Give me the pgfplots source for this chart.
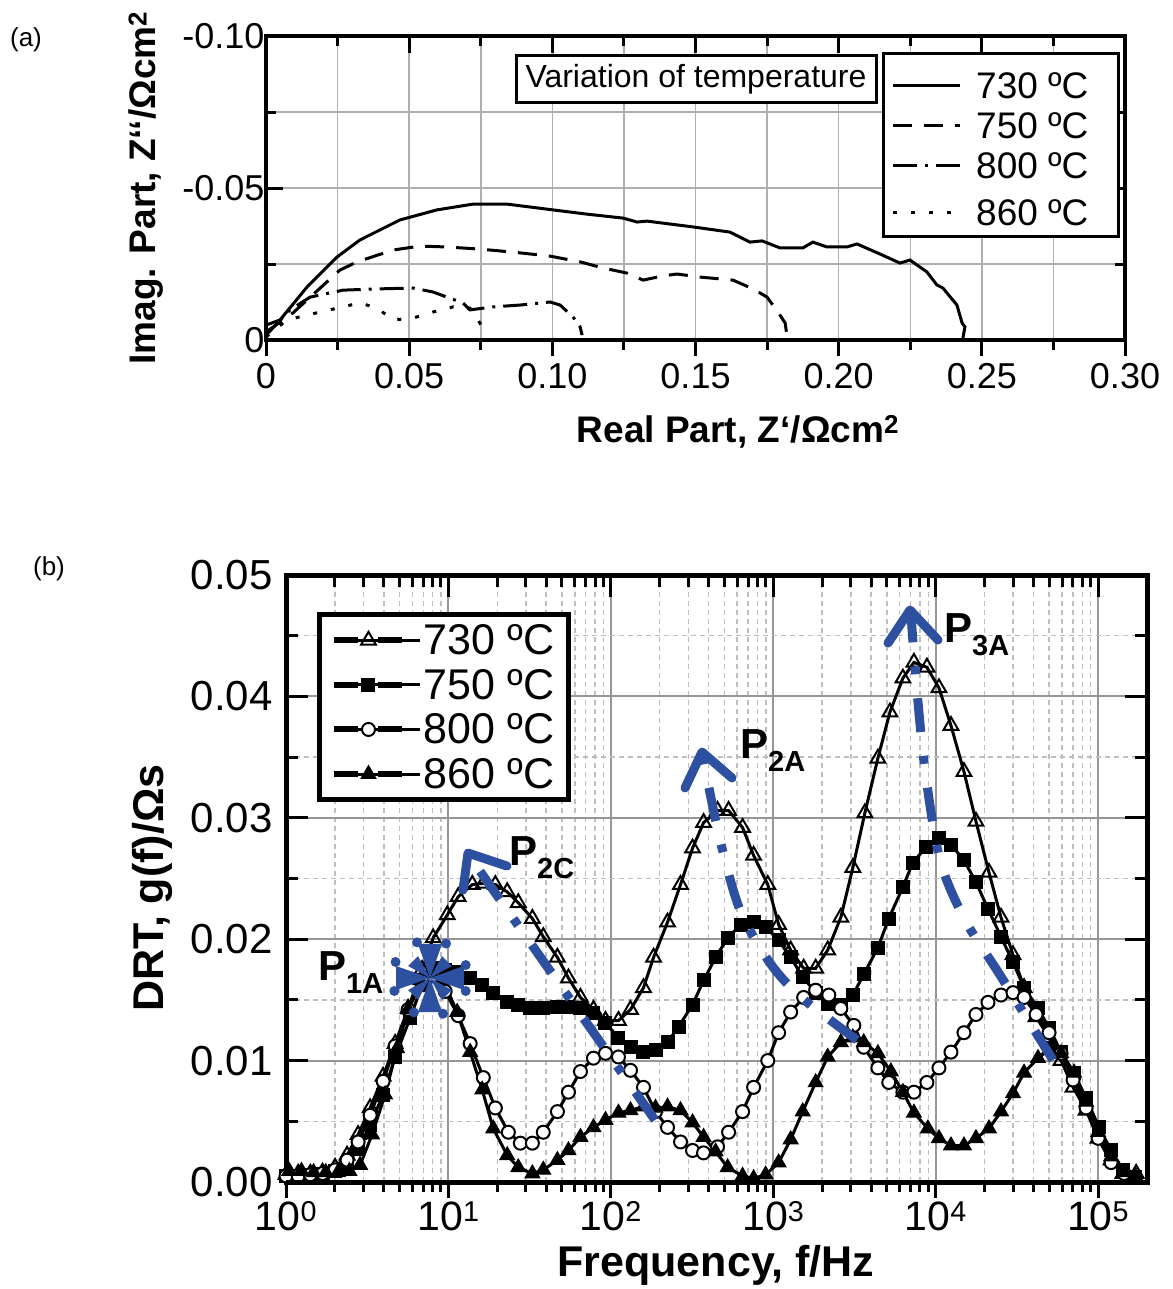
\documentclass[border=0pt]{standalone}
\usepackage{fontspec}
\setmainfont{Liberation Sans}
\usepackage{pgfplots}
\pgfplotsset{compat=1.18}
\usepackage{pgfplotstable}
\definecolor{arrblue}{RGB}{46,80,160}
\definecolor{gridA}{RGB}{175,175,175}
\definecolor{gridMaj}{RGB}{150,150,150}
\definecolor{gridMin}{RGB}{190,190,190}
\newcommand\fs[1]{\fontsize{#1}{#1}\selectfont}
\newcommand\psub[2]{#1\raisebox{-13pt}{\fs{29}#2}}

% ---------- (a) Nyquist data: Z' , Z'' (ohm cm2) ----------
\pgfplotstableread{
x y
0.0000 -0.0049
0.0049 -0.0066
0.0143 -0.0174
0.0248 -0.0273
0.0328 -0.0329
0.0468 -0.0395
0.0597 -0.0428
0.0723 -0.0447
0.0842 -0.0447
0.1002 -0.0428
0.1121 -0.0414
0.1247 -0.0401
0.1296 -0.0388
0.1331 -0.0391
0.1491 -0.0372
0.1620 -0.0355
0.1690 -0.0322
0.1732 -0.0326
0.1795 -0.0303
0.1875 -0.0303
0.1910 -0.0322
0.1959 -0.0306
0.2029 -0.0306
0.2064 -0.0316
0.2144 -0.0283
0.2214 -0.0253
0.2249 -0.0263
0.2308 -0.0224
0.2343 -0.0181
0.2364 -0.0171
0.2413 -0.0115
0.2431 -0.0056
0.2441 -0.0043
0.2434 -0.0007
}\nA
\pgfplotstableread{
x y
0.0000 -0.0026
0.0094 -0.0089
0.0258 -0.0230
0.0318 -0.0257
0.0444 -0.0296
0.0538 -0.0309
0.0632 -0.0306
0.0747 -0.0299
0.0863 -0.0289
0.0992 -0.0276
0.1097 -0.0257
0.1177 -0.0237
0.1261 -0.0220
0.1317 -0.0197
0.1386 -0.0211
0.1435 -0.0217
0.1516 -0.0207
0.1631 -0.0197
0.1701 -0.0168
0.1750 -0.0141
0.1788 -0.0092
0.1813 -0.0056
0.1820 -0.0010
}\nB
\pgfplotstableread{
x y
0.0000 -0.0016
0.0084 -0.0099
0.0154 -0.0141
0.0269 -0.0164
0.0388 -0.0168
0.0513 -0.0171
0.0583 -0.0158
0.0632 -0.0141
0.0688 -0.0122
0.0712 -0.0099
0.0793 -0.0109
0.0887 -0.0115
0.0992 -0.0125
0.1027 -0.0115
0.1072 -0.0076
0.1097 -0.0043
0.1104 -0.0016
}\nC
\pgfplotstableread{
x y
0.0000 -0.0010
0.0073 -0.0066
0.0189 -0.0092
0.0328 -0.0122
0.0388 -0.0105
0.0444 -0.0066
0.0513 -0.0072
0.0583 -0.0092
0.0653 -0.0109
0.0712 -0.0105
0.0747 -0.0056
0.0772 -0.0010
}\nD

% ---------- (b) DRT data: log10(f/Hz) , g(f) ----------
\pgfplotstableread{
lf y
0.000 0.0006
0.075 0.0007
0.150 0.0007
0.225 0.0008
0.302 0.0012
0.376 0.0022
0.444 0.0039
0.518 0.0061
0.598 0.0087
0.672 0.0114
0.752 0.0143
0.838 0.0175
0.906 0.0201
0.993 0.0220
1.060 0.0235
1.147 0.0245
1.215 0.0246
1.289 0.0245
1.362 0.0239
1.430 0.0230
1.517 0.0217
1.584 0.0202
1.671 0.0185
1.739 0.0168
1.813 0.0152
1.893 0.0142
1.967 0.0133
2.047 0.0133
2.121 0.0142
2.201 0.0160
2.263 0.0185
2.349 0.0214
2.429 0.0245
2.503 0.0275
2.571 0.0296
2.657 0.0306
2.725 0.0306
2.811 0.0292
2.879 0.0269
2.966 0.0245
3.033 0.0212
3.107 0.0191
3.187 0.0176
3.261 0.0176
3.335 0.0191
3.416 0.0218
3.490 0.0259
3.564 0.0304
3.644 0.0349
3.718 0.0387
3.798 0.0415
3.866 0.0428
3.946 0.0424
4.020 0.0407
4.094 0.0376
4.174 0.0338
4.248 0.0297
4.328 0.0255
4.402 0.0218
4.476 0.0187
4.544 0.0160
4.618 0.0136
4.698 0.0119
4.772 0.0100
4.846 0.0078
4.926 0.0059
5.000 0.0036
5.080 0.0018
5.154 0.0007
5.234 0.0007
}\dA
\pgfplotstableread{
lf y
0.000 0.0005
0.075 0.0005
0.150 0.0006
0.225 0.0007
0.302 0.0009
0.376 0.0015
0.444 0.0027
0.518 0.0047
0.598 0.0072
0.672 0.0103
0.764 0.0135
0.838 0.0162
0.906 0.0176
0.980 0.0175
1.054 0.0173
1.134 0.0168
1.208 0.0162
1.276 0.0156
1.362 0.0148
1.430 0.0146
1.504 0.0143
1.584 0.0143
1.671 0.0144
1.739 0.0144
1.813 0.0143
1.893 0.0139
1.967 0.0131
2.047 0.0119
2.121 0.0111
2.201 0.0107
2.275 0.0109
2.349 0.0115
2.417 0.0128
2.503 0.0146
2.571 0.0166
2.645 0.0185
2.719 0.0201
2.799 0.0212
2.879 0.0214
2.953 0.0210
3.033 0.0199
3.107 0.0185
3.181 0.0169
3.261 0.0156
3.335 0.0147
3.416 0.0146
3.490 0.0154
3.557 0.0171
3.644 0.0193
3.711 0.0217
3.798 0.0243
3.859 0.0263
3.940 0.0276
4.020 0.0283
4.094 0.0278
4.174 0.0265
4.248 0.0247
4.322 0.0225
4.402 0.0202
4.476 0.0181
4.544 0.0160
4.630 0.0143
4.698 0.0127
4.772 0.0107
4.852 0.0090
4.926 0.0069
5.006 0.0045
5.080 0.0026
5.154 0.0010
5.230 0.0004
}\dB
\pgfplotstableread{
lf y
0.000 0.0005
0.075 0.0005
0.150 0.0006
0.225 0.0007
0.302 0.0010
0.376 0.0018
0.444 0.0033
0.518 0.0055
0.598 0.0083
0.672 0.0112
0.752 0.0142
0.838 0.0165
0.906 0.0170
0.980 0.0157
1.060 0.0137
1.134 0.0114
1.215 0.0086
1.289 0.0061
1.369 0.0041
1.443 0.0032
1.517 0.0032
1.584 0.0041
1.671 0.0058
1.739 0.0074
1.813 0.0091
1.893 0.0102
1.967 0.0106
2.047 0.0103
2.121 0.0092
2.201 0.0078
2.275 0.0058
2.349 0.0045
2.429 0.0033
2.503 0.0026
2.571 0.0024
2.657 0.0029
2.725 0.0041
2.811 0.0058
2.879 0.0078
2.966 0.0100
3.033 0.0123
3.107 0.0140
3.187 0.0152
3.261 0.0158
3.342 0.0154
3.416 0.0143
3.496 0.0129
3.557 0.0111
3.644 0.0094
3.711 0.0082
3.798 0.0074
3.866 0.0074
3.946 0.0082
4.020 0.0094
4.094 0.0107
4.174 0.0123
4.248 0.0138
4.322 0.0148
4.402 0.0154
4.476 0.0156
4.544 0.0152
4.618 0.0138
4.698 0.0123
4.772 0.0106
4.846 0.0084
4.926 0.0061
5.000 0.0036
5.080 0.0016
5.160 0.0007
}\dC
\pgfplotstableread{
lf y
0.020 0.0009
0.095 0.0009
0.170 0.0008
0.245 0.0008
0.320 0.0008
0.390 0.0009
0.456 0.0014
0.530 0.0039
0.610 0.0072
0.684 0.0110
0.752 0.0142
0.826 0.0166
0.900 0.0172
0.968 0.0166
1.054 0.0140
1.134 0.0107
1.208 0.0076
1.276 0.0044
1.362 0.0022
1.430 0.0012
1.517 0.0007
1.584 0.0010
1.671 0.0018
1.739 0.0026
1.813 0.0037
1.893 0.0045
1.967 0.0051
2.047 0.0057
2.121 0.0059
2.201 0.0062
2.275 0.0061
2.349 0.0062
2.429 0.0059
2.503 0.0049
2.571 0.0037
2.645 0.0025
2.719 0.0012
2.811 0.0005
2.879 0.0003
2.953 0.0006
3.033 0.0016
3.107 0.0035
3.181 0.0058
3.261 0.0082
3.335 0.0103
3.416 0.0115
3.490 0.0119
3.557 0.0115
3.644 0.0106
3.724 0.0091
3.798 0.0074
3.866 0.0057
3.952 0.0044
4.020 0.0036
4.094 0.0030
4.174 0.0030
4.248 0.0036
4.328 0.0044
4.402 0.0058
4.476 0.0073
4.544 0.0090
4.630 0.0102
4.698 0.0109
4.772 0.0106
4.852 0.0090
4.926 0.0066
5.000 0.0041
5.080 0.0021
5.160 0.0008
5.230 0.0005
}\dD

\begin{document}
\begin{tikzpicture}
\useasboundingbox (0pt,0pt) rectangle (1172pt,-1289pt);

% ================= (a) =================
\begin{axis}[
  at={(695.5pt,-188pt)}, anchor=center, scale only axis,
  width=859pt, height=304pt,
  xmin=0, xmax=0.3, ymin=-0.1, ymax=0, y dir=reverse,
  scaled ticks=false,
  xtick={0,0.05,0.1,0.15,0.2,0.25,0.3},
  xticklabels={0,0.05,0.10,0.15,0.20,0.25,0.30},
  minor xtick={0.025,0.075,0.125,0.175,0.225,0.275},
  ytick={-0.1,-0.05,0}, yticklabels={-0.10,-0.05,0},
  minor ytick={-0.075,-0.025},
  grid=both,
  major grid style={gridA, line width=1.5pt},
  minor grid style={gridA, line width=1.5pt},
  axis line style={line width=4pt},
  every tick/.style={black, line width=3pt},
  major tick length=17pt, minor tick length=10pt,
  tick align=inside,
  xtick pos=right, xticklabel pos=left,
  ticklabel style={font=\fs{36}},
  xticklabel style={yshift=-20pt},
  yticklabel style={xshift=2pt},
  clip=false,
]
\addplot[black, line width=3pt] table[x=x,y=y] {\nA};
\addplot[black, line width=3pt, dash pattern=on 19pt off 12pt] table[x=x,y=y] {\nB};
\addplot[black, line width=3pt, dash pattern=on 24pt off 8pt on 3pt off 8pt] table[x=x,y=y] {\nC};
\addplot[black, line width=3pt, dash pattern=on 4pt off 14pt] table[x=x,y=y] {\nD};
\end{axis}
% outward bottom ticks of (a)
\begin{axis}[
  at={(695.5pt,-188pt)}, anchor=center, scale only axis,
  width=859pt, height=304pt,
  xmin=0, xmax=0.3, ymin=0, ymax=0.1,
  axis x line*=bottom, axis y line=none,
  xtick={0,0.05,0.1,0.15,0.2,0.25,0.3}, xticklabels={},
  minor xtick={0.025,0.075,0.125,0.175,0.225,0.275},
  axis line style={line width=4pt},
  every tick/.style={black, line width=3pt},
  major tick length=16pt, minor tick length=10pt,
  tick align=outside,
]
\end{axis}

% ================= (b) =================
\begin{axis}[
  at={(716.5pt,-878.5pt)}, anchor=center, scale only axis,
  width=861pt, height=607pt,
  xmode=log, log basis x=10,
  xmin=1, xmax=2e5, ymin=0, ymax=0.05,
  scaled y ticks=false,
  xtick={1,10,100,1000,10000,100000},
  xticklabels={10\textsuperscript{0},10\textsuperscript{1},10\textsuperscript{2},10\textsuperscript{3},10\textsuperscript{4},10\textsuperscript{5}},
  minor xtick={2,3,4,5,6,7,8,9,20,30,40,50,60,70,80,90,200,300,400,500,600,700,800,900,2000,3000,4000,5000,6000,7000,8000,9000,20000,30000,40000,50000,60000,70000,80000,90000},
  ytick={0,0.01,0.02,0.03,0.04,0.05},
  yticklabels={0.00,0.01,0.02,0.03,0.04,0.05},
  minor ytick={0.005,0.015,0.025,0.035,0.045},
  grid=both,
  major grid style={gridMaj, line width=2pt},
  minor grid style={gridMin, line width=1.5pt, dash pattern=on 5pt off 4pt},
  axis line style={line width=5pt},
  every tick/.style={black, line width=3pt},
  major tick length=22pt, minor tick length=12pt,
  tick align=inside,
  xtick pos=right, xticklabel pos=left,
  ticklabel style={font=\fs{41}},
  yticklabel style={font=\fs{42}, xshift=-10pt},
  xticklabel style={yshift=-16pt},
  clip=false,
  legend style={at={(0.036,0.939)}, anchor=north west, draw=black, line width=5pt,
     font=\fs{43}, inner xsep=12pt, inner ysep=8pt, row sep=9pt, cells={anchor=west}},
  legend image code/.code={
     \path (0pt,0pt) -- (86pt,0pt);
     \draw[#1, mark=none, line width=6pt, solid] (0pt,0pt) -- (24pt,0pt);
     \draw[#1, mark=none, line width=6pt, solid] (44pt,0pt) -- (68pt,0pt);
     \draw[#1, only marks] plot coordinates {(34pt,0pt)};
  },
]
\addplot[black, line width=3pt, mark=triangle, mark size=8.5pt,
   mark options={solid, fill=white, line width=2pt}] table[x expr=10^\thisrow{lf}, y=y] {\dA};
\addlegendentry{730 ºC}
\addplot[black, line width=3pt, mark=square*, mark size=6.5pt,
   mark options={solid, fill=black, line width=1pt}] table[x expr=10^\thisrow{lf}, y=y] {\dB};
\addlegendentry{750 ºC}
\addplot[black, line width=3pt, mark=*, mark size=6.5pt,
   mark options={solid, fill=white, line width=2pt}] table[x expr=10^\thisrow{lf}, y=y] {\dC};
\addlegendentry{800 ºC}
\addplot[black, line width=3pt, mark=triangle*, mark size=8.5pt,
   mark options={solid, fill=black, line width=1pt}] table[x expr=10^\thisrow{lf}, y=y] {\dD};
\addlegendentry{860 ºC}
\end{axis}
% outward bottom ticks of (b)
\begin{axis}[
  at={(716.5pt,-878.5pt)}, anchor=center, scale only axis,
  width=861pt, height=607pt,
  xmode=log, xmin=1, xmax=2e5, ymin=0, ymax=0.05,
  axis x line*=bottom, axis y line=none,
  xtick={1,10,100,1000,10000,100000}, xticklabels={},
  minor xtick={2,3,4,5,6,7,8,9,20,30,40,50,60,70,80,90,200,300,400,500,600,700,800,900,2000,3000,4000,5000,6000,7000,8000,9000,20000,30000,40000,50000,60000,70000,80000,90000},
  axis line style={line width=5pt},
  every tick/.style={black, line width=3pt},
  major tick length=16pt, minor tick length=10pt,
  tick align=outside,
]
\end{axis}

% ================= annotations (picture coordinates) =================
\begin{scope}[x=1pt, y=-1pt]
  \node[font=\fs{26}] at (26,40) {(a)};
  \node[font=\fs{26}] at (49,569) {(b)};
  % axis titles (a)
  \node[rotate=90, font=\bfseries\fs{37}] at (146,188) {Imag. Part, Z‘‘/Ωcm\textsuperscript{2}};
  \node[font=\bfseries\fs{37}] at (738,432) {Real Part, Z‘/Ωcm\textsuperscript{2}};
  % axis titles (b)
  \node[rotate=90, font=\bfseries\fs{43}] at (152,888) {DRT, g(f)/Ωs};
  \node[font=\bfseries\fs{43}] at (716,1265) {Frequency, f/Hz};
  % (a) boxes
  \node[draw=black, line width=3pt, fill=white, font=\fs{32}, inner sep=4pt,
        minimum width=360pt, minimum height=47pt] at (696,79) {Variation of temperature};
  \draw[line width=3pt, fill=white] (883,54) rectangle (1118,237);
  \draw[line width=3pt] (893,86) -- (960,86);
  \draw[line width=3pt, dash pattern=on 19pt off 12pt] (893,126) -- (960,126);
  \draw[line width=3pt, dash pattern=on 24pt off 8pt on 3pt off 8pt] (893,166) -- (960,166);
  \draw[line width=3pt, dash pattern=on 4pt off 14pt] (893,213) -- (960,213);
  \node[anchor=west, font=\fs{37}, inner sep=0pt] at (976,86) {730 ºC};
  \node[anchor=west, font=\fs{37}, inner sep=0pt] at (976,126) {750 ºC};
  \node[anchor=west, font=\fs{37}, inner sep=0pt] at (976,166) {800 ºC};
  \node[anchor=west, font=\fs{37}, inner sep=0pt] at (976,213) {860 ºC};
  % (b) peak arrows
  \begin{scope}[arrblue, line width=9pt]
    \draw[dash pattern=on 34pt off 24pt on 8pt off 24pt] (655,1120) -- (470,857);
    \draw[line cap=round, line join=round] (507,866) -- (468,853) -- (463,890);
    \draw[dash pattern=on 34pt off 24pt on 8pt off 24pt] plot[smooth] coordinates
         {(857,1040) (802,998) (770,963) (740,910) (720,840) (703,758)};
    \draw[line cap=round, line join=round] (685,788) -- (702,752) -- (732,778);
    \draw[dash pattern=on 34pt off 24pt on 8pt off 24pt] plot[smooth] coordinates
         {(1053,1060) (1000,975) (965,920) (940,860) (925,770) (916,680) (911,615)};
    \draw[line cap=round, line join=round] (888,643) -- (910,610) -- (938,640);
  \end{scope}
  % P1A burst
  \begin{scope}[shift={(430,978)}, arrblue]
    \foreach \a in {0,90,180,270} {
      \fill[rotate=\a] (0,0) -- (34,-12) -- (34,12) -- cycle;
    }
    \foreach \a in {45,135,225,315} {
      \fill[rotate=\a] (0,0) -- (24,-7) -- (24,7) -- cycle;
    }
    \foreach \a in {20,70,115,160,205,250,295,340} {
      \fill ({38*cos(\a)},{38*sin(\a)}) circle (5);
    }
  \end{scope}
  % peak labels
  \node[anchor=base west, font=\bfseries\fs{42}, inner sep=0pt] at (318,980) {\psub{P}{1A}};
  \node[anchor=base west, font=\bfseries\fs{42}, inner sep=0pt] at (509,865) {\psub{P}{2C}};
  \node[anchor=base west, font=\bfseries\fs{42}, inner sep=0pt] at (740,758) {\psub{P}{2A}};
  \node[anchor=base west, font=\bfseries\fs{42}, inner sep=0pt] at (944,642) {\psub{P}{3A}};
\end{scope}
\end{tikzpicture}
\end{document}
